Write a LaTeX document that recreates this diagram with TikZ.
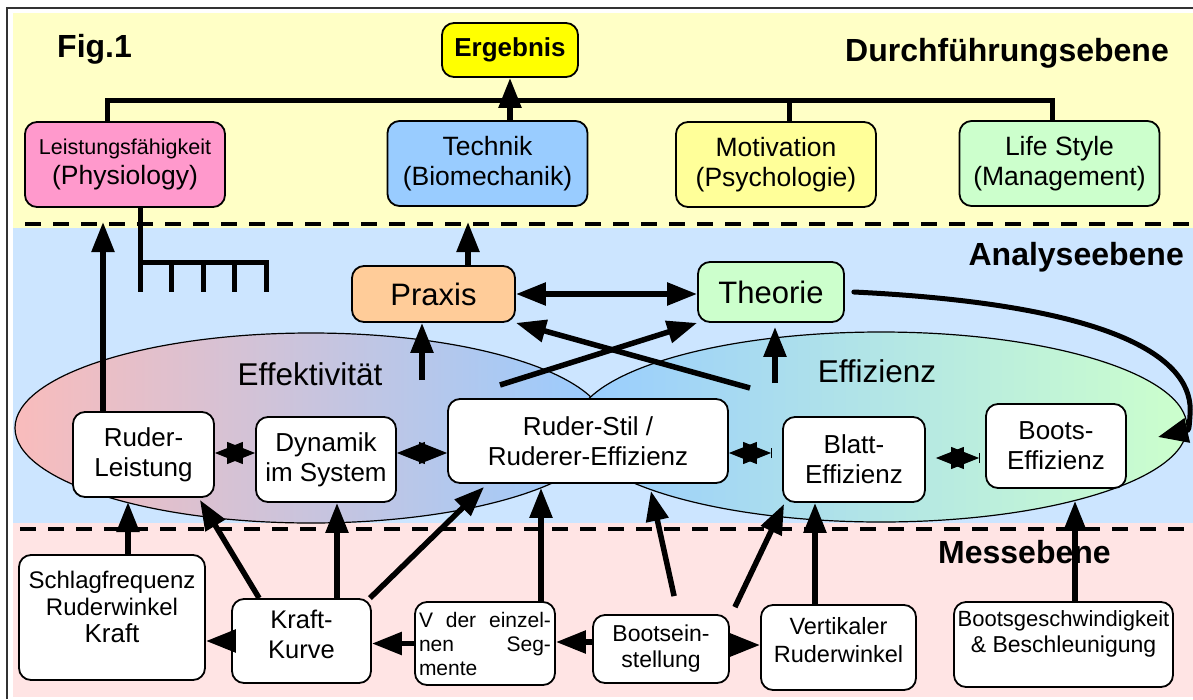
\documentclass[tikz,border=0pt]{standalone}
\usepackage{fontspec}
\setmainfont{Liberation Sans}
\usetikzlibrary{arrows.meta,calc}
\definecolor{bgY}{HTML}{FFFFC6}
\definecolor{bgB}{HTML}{CCE5FF}
\definecolor{bgP}{HTML}{FFE4E4}
\definecolor{cErg}{HTML}{FFFF00}
\definecolor{cLf}{HTML}{FF99CC}
\definecolor{cTe}{HTML}{99CCFF}
\definecolor{cMo}{HTML}{FFFF99}
\definecolor{cLs}{HTML}{CCFFCC}
\definecolor{cPx}{HTML}{FFCC99}
\definecolor{cTh}{HTML}{CCFFCC}
\definecolor{ePink}{HTML}{F9BCBC}
\definecolor{eBlue}{HTML}{99CCFF}
\definecolor{eGreen}{HTML}{CCFFCC}
\newcommand{\fsz}[2]{\fontsize{#1pt}{#2pt}\selectfont}
\begin{document}
\begin{tikzpicture}[x=1pt,y=-1pt,
  box/.style={draw=black, line width=1.8pt, rounded corners=12pt, align=center, inner sep=0pt},
  topbox/.style={box, minimum width=200pt, minimum height=85pt, font=\fsz{26.5}{30}},
  midbox/.style={box, fill=white, minimum height=85pt, font=\fsz{26}{30}},
  lowbox/.style={box, fill=white},
  txt/.style={align=center, inner sep=0pt},
  head/.style={font=\bfseries\fsz{32}{36}, inner sep=0pt},
  bus/.style={line width=5pt, line join=miter},
  arr/.style={line width=5.5pt, -{Triangle[length=30pt,width=22pt]}},
  dblarr/.style={line width=5.5pt, {Triangle[length=30pt,width=22pt]}-{Triangle[length=30pt,width=22pt]}},
  stararr/.style={line width=1pt, {Triangle[length=28pt,width=22pt]}-{Triangle[length=28pt,width=22pt]}},
  dashline/.style={line width=4pt, dash pattern=on 16pt off 12pt}
]
\useasboundingbox (0,0) rectangle (1193,699);
% backgrounds
\fill[white] (0,0) rectangle (1193,699);
\fill[bgY] (13,13) rectangle (1193,228);
\fill[bgB] (13,228) rectangle (1193,523);
\fill[bgP] (13,523) rectangle (1193,697);
\draw[line width=1.5pt, black!80] (7,699) -- (7,8) -- (1193,8);
\draw[dashline] (25,224) -- (1193,224);
\draw[dashline] (20,529) -- (1193,529);
% ellipses
\draw[line width=1.2pt, left color=ePink, right color=eBlue] (311,428) ellipse [x radius=296pt, y radius=95pt];
\draw[line width=1.2pt, left color=eBlue, right color=eGreen] (881,427) ellipse [x radius=306pt, y radius=95pt];
% headings
\node[head, anchor=base west] (fig) at (57,57) {Fig.1};
\node[head, anchor=base east] (h1) at (1169,61) {Durchführungsebene};
\node[head, anchor=base east] (h2) at (1184,265) {Analyseebene};
\node[head, anchor=base west] (h3) at (938,563) {Messebene};
\node[txt, anchor=base, font=\fsz{31.5}{36}] (eff1) at (310,385) {Effektivität};
\node[txt, anchor=base, font=\fsz{31.5}{36}] (eff2) at (877,382) {Effizienz};
% top nodes
\node[box, fill=cErg, minimum width=136pt, minimum height=54pt, font=\bfseries\fsz{26}{30}] (er) at (510,50) {Ergebnis};
\node[topbox, fill=cLf] (lf) at (125,164.5) {{\fsz{21.5}{25}Leistungsfähigkeit}\\(Physiology)};
\node[topbox, fill=cTe] (te) at (487.5,163.5) {Technik\\(Biomechanik)};
\node[topbox, fill=cMo] (mo) at (776,164.5) {Motivation\\(Psychologie)};
\node[topbox, fill=cLs] (ls) at (1059.5,163.5) {Life Style\\(Management)};
% analysis level
\node[box, fill=cPx, minimum width=163pt, minimum height=56pt, font=\fsz{31}{36}] (px) at (433.5,294) {Praxis};
\node[box, fill=cTh, minimum width=146pt, minimum height=60pt, font=\fsz{31}{36}] (th) at (771,292) {Theorie};
\node[midbox, minimum width=141pt] (rl) at (143.5,454.5) {Ruder-\\Leistung};
\node[midbox, minimum width=140pt] (dy) at (326,459.5) {Dynamik\\im System};
\node[midbox, minimum width=280pt, minimum height=84pt] (rs) at (588,441) {Ruder-Stil /\\Ruderer-Effizienz};
\node[midbox, minimum width=142pt] (bl) at (854,459.5) {Blatt-\\Effizienz};
\node[midbox, minimum width=140pt, minimum height=84pt] (be) at (1056,446) {Boots-\\Effizienz};
% measurement level
\node[lowbox, minimum width=186pt, minimum height=125pt] (sf) at (112,617.5) {};
\node[txt, font=\fsz{24}{27}] (sft) at ([yshift=11pt]sf.center) {Schlagfrequenz\\Ruderwinkel\\{\fsz{26}{27}Kraft}};
\node[lowbox, minimum width=139pt, minimum height=84pt] (kk) at (301.5,641) {};
\node[txt, font=\fsz{25.5}{30}] (kkt) at ([yshift=7pt]kk.center) {Kraft-\\Kurve};
\node[lowbox, minimum width=140pt, minimum height=83pt] (vs) at (485,643.5) {};
\node[txt] (vst) at (vs.center) {\parbox{132pt}{\fsz{21}{24}\hbadness=10000 V der einzel-\linebreak nen Seg-\linebreak mente}};
\node[lowbox, minimum width=136pt, minimum height=68pt, font=\fsz{23}{26}] (bs) at (661,649) {Bootsein-\\stellung};
\node[lowbox, minimum width=155pt, minimum height=85pt] (vr) at (838.5,647.5) {};
\node[txt, font=\fsz{23.5}{28}] (vrt) at ([yshift=7pt]vr.center) {Vertikaler\\Ruderwinkel};
\node[lowbox, minimum width=219pt, minimum height=85pt] (bg) at (1063.5,644.5) {};
\node[txt, font=\fsz{23}{26}] (bgt) at ([yshift=11pt]bg.center) {{\fsz{22}{26}Bootsgeschwindigkeit}\\\& Beschleunigung};
% coordinates
\coordinate (b1) at (107,100);
\coordinate (b3) at (789,100);
\coordinate (b4) at (1052,100);
\coordinate (k0) at (140,292);
\coordinate (aRL) at (103,222);
\coordinate (aPX) at (468,222);
\coordinate (pIn) at (422,380);
\coordinate (cA) at (500,385);
\coordinate (cB) at (750,388);
\coordinate (tIn) at (775,383);
\coordinate (eMid) at (1190,415);
\coordinate (eEnd) at (1158,437);
\coordinate (sUp) at (128,502);
\coordinate (kD) at (337,0);
\coordinate (vU) at (541,0);
\coordinate (vU2) at (815,0);
\coordinate (bU) at (1075,0);
\coordinate (sy1) at (0,453);
\coordinate (sy2) at (0,458);
\path ([xshift=-11pt]bl.west) coordinate (blw);
\path ([xshift=10pt]bl.east) coordinate (ble);
\path ([xshift=-6pt]be.west) coordinate (bew);
% bus to Ergebnis
\draw[bus] (lf.north -| b1) -- (b1) -- (b4) -- (ls.north -| b4);
\draw[bus] (b3) -- (mo.north -| b3);
\draw[arr] (te.north -| er.south) -- (er.south);
% comb under Leistungsfaehigkeit
\draw[bus] (lf.south -| k0) -- (k0);
\draw[bus] (140,262) -- (266,262) -- (266,292);
\foreach \xx in {171,203,234} \draw[bus] (\xx,262) -- (\xx,292);
% analysis arrows
\draw[arr] (rl.north -| aRL) -- (aRL);
\draw[arr] (px.north -| aPX) -- (aPX);
\draw[dblarr] (px.east) -- (px.east -| th.west);
\draw[arr] (pIn) -- (pIn |- px.south);
\draw[arr] (cA) -- (th.south west);
\draw[arr] (cB) -- (px.south east);
\draw[arr] (tIn) -- ([yshift=-4pt]tIn |- th.south);
\draw[line width=5pt, line cap=round, -{Triangle[length=30pt,width=24pt]}] ([xshift=9pt]th.east) .. controls (1120,305) and (1195,360) .. (eMid) .. controls (1189,430) .. (eEnd);
\draw[stararr] (rl.east |- sy1) -- (dy.west |- sy1);
\draw[stararr] (dy.east |- sy1) -- (rs.west |- sy1);
\draw[stararr] (rs.east |- sy1) -- (blw |- sy1);
\draw[line width=1pt] ([yshift=-5pt]blw |- sy1) -- ([yshift=5pt]blw |- sy1);
\draw[stararr] (ble |- sy2) -- (bew |- sy2);
\draw[line width=1pt] ([yshift=-5pt]bew |- sy2) -- ([yshift=5pt]bew |- sy2);
% measurement arrows
\draw[arr] (sf.north -| sUp) -- (sUp);
\draw[arr] (kk.west) -- (kk.west -| sf.east);
\draw[arr] ([xshift=28pt]kk.north west) -- ([xshift=-15pt,yshift=-2pt]rl.south east);
\draw[arr] (kk.north -| kD) -- (dy.south -| kD);
\draw[arr] ([xshift=-2pt]kk.north east) -- ([xshift=37pt,yshift=-3pt]rs.south west);
\draw[arr] (vs.north -| vU) -- ([yshift=-4pt]rs.south -| vU);
\draw[arr] (vs.west) -- (vs.west -| kk.east);
\draw[arr] ([yshift=7pt]bs.west) -- ([yshift=7pt]bs.west -| vs.east);
\draw[arr] ([yshift=4pt]bs.east) -- ([yshift=4pt]bs.east -| vr.west);
\draw[arr] ([xshift=82pt,yshift=18pt]bs.north west) -- ([xshift=-78pt,yshift=-7pt]rs.south east);
\draw[arr] ([xshift=5pt,yshift=7pt]bs.north east) -- ([xshift=2pt,yshift=-1pt]bl.south west);
\draw[arr] (vr.north -| vU2) -- (bl.south -| vU2);
\draw[arr] (bg.north -| bU) -- ([yshift=-12pt]be.south -| bU);
\end{tikzpicture}
\end{document}
